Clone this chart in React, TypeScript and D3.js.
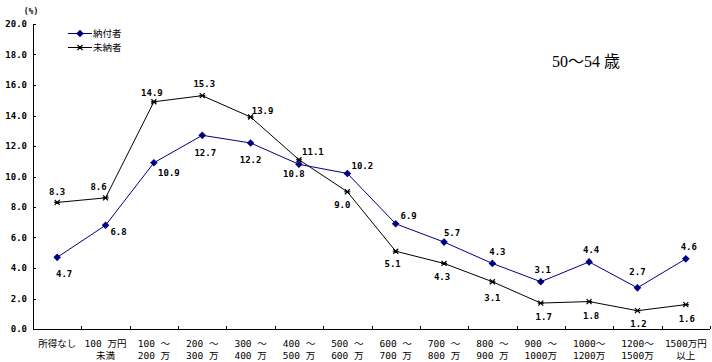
import React, { useEffect, useRef } from 'react';
import * as d3 from 'd3';

// income brackets (two text lines each)
const categories = [
  ['所得なし', ''],
  ['100 万円', '未満'],
  ['100 ～', '200 万'],
  ['200 ～', '300 万'],
  ['300 ～', '400 万'],
  ['400 ～', '500 万'],
  ['500 ～', '600 万'],
  ['600 ～', '700 万'],
  ['700 ～', '800 万'],
  ['800 ～', '900 万'],
  ['900 ～', '1000万'],
  ['1000～', '1200万'],
  ['1200～', '1500万'],
  ['1500万円', '以上'],
];

const paid = [4.7, 6.8, 10.9, 12.7, 12.2, 10.8, 10.2, 6.9, 5.7, 4.3, 3.1, 4.4, 2.7, 4.6];
const unpaid = [8.3, 8.6, 14.9, 15.3, 13.9, 11.1, 9.0, 5.1, 4.3, 3.1, 1.7, 1.8, 1.2, 1.6];

const yTicks = [0, 2, 4, 6, 8, 10, 12, 14, 16, 18, 20];

// label nudges [dx, dy] relative to each point
const paidLabelNudge = [[7, 17], [13, 7], [15, 10], [3, 18], [0, 17], [-5, 10], [15, -7], [13, -8], [8, -9], [5, -11], [2, -12], [2, -12], [0, -16], [3, -12]];
const unpaidLabelNudge = [[0, -10], [-7, -11], [-2, -9], [2, -12], [12, -6], [14, -8], [-5, 13], [-3, 13], [-2, 14], [0, 16], [3, 14], [2, 14], [1, 13], [1, 14]];

const NAVY = '#000080';
const MONO = '"DejaVu Sans Mono", monospace';
const CJK = '"Noto Sans CJK JP", sans-serif';

const App = () => {
  const svgRef = useRef<SVGSVGElement>(null);
  const width = 712;
  const height = 362;
  const margin = { top: 24, right: 2, bottom: 33, left: 33 };

  useEffect(() => {
    const svg = d3.select(svgRef.current);
    svg.selectAll('*').remove();

    const x = d3.scaleBand<number>()
      .domain(d3.range(categories.length))
      .range([margin.left, width - margin.right]);

    const y = d3.scaleLinear()
      .domain([0, 20])
      .range([height - margin.bottom, margin.top]);

    const cx = (i: number) => (x(i) as number) + x.bandwidth() / 2;

    // y axis
    const yAxis = svg.append('g').attr('transform', `translate(${margin.left},0)`);
    yAxis.append('line')
      .attr('x1', 0.5).attr('x2', 0.5)
      .attr('y1', y(20)).attr('y2', y(0))
      .attr('stroke', '#000');
    yAxis.selectAll('.yt')
      .data(yTicks)
      .enter().append('line')
      .attr('x1', 0).attr('x2', 3)
      .attr('y1', d => Math.round(y(d)) + 0.5).attr('y2', d => Math.round(y(d)) + 0.5)
      .attr('stroke', '#000');
    yAxis.selectAll('.yl')
      .data(yTicks)
      .enter().append('text')
      .attr('x', -6)
      .attr('y', d => y(d) + 3)
      .attr('text-anchor', 'end')
      .style('font-family', MONO)
      .style('font-size', '9px')
      .style('font-weight', 'bold')
      .text(d => d.toFixed(1));

    svg.append('text')
      .attr('x', 31).attr('y', 14)
      .attr('text-anchor', 'middle')
      .style('font-family', MONO)
      .style('font-size', '8px')
      .style('font-weight', 'bold')
      .text('(%)');

    // x axis
    const xAxis = svg.append('g');
    xAxis.append('line')
      .attr('x1', margin.left).attr('x2', width - margin.right)
      .attr('y1', y(0) + 0.5).attr('y2', y(0) + 0.5)
      .attr('stroke', '#000');
    xAxis.selectAll('.xt')
      .data(d3.range(1, categories.length + 1))
      .enter().append('line')
      .attr('x1', d => Math.round((x(0) as number) + d * x.bandwidth()) + 0.5)
      .attr('x2', d => Math.round((x(0) as number) + d * x.bandwidth()) + 0.5)
      .attr('y1', y(0) - 3).attr('y2', y(0))
      .attr('stroke', '#000');
    categories.forEach((c, i) => {
      c.forEach((line, k) => {
        xAxis.append('text')
          .attr('x', cx(i))
          .attr('y', y(0) + 18 + k * 12)
          .attr('text-anchor', 'middle')
          .style('font-family', `${MONO.split(',')[0]}, ${CJK}`)
          .style('font-size', '9.5px')
          .text(line);
      });
    });

    // lines
    const line = d3.line<number>().x((_, i) => cx(i)).y(d => y(d));

    svg.append('path')
      .datum(unpaid)
      .attr('d', line)
      .attr('fill', 'none')
      .attr('stroke', '#000')
      .attr('stroke-width', 1);

    svg.append('path')
      .datum(paid)
      .attr('d', line)
      .attr('fill', 'none')
      .attr('stroke', NAVY)
      .attr('stroke-width', 1);

    const starPath = 'M-2.5,-2.5L2.5,2.5M-2.5,2.5L2.5,-2.5M-3,0L3,0';
    const diamond = 'M0,-3.8L3.8,0L0,3.8L-3.8,0Z';

    svg.selectAll('.mu')
      .data(unpaid)
      .enter().append('path')
      .attr('transform', (d, i) => `translate(${cx(i)},${y(d)})`)
      .attr('d', starPath)
      .attr('stroke', '#000')
      .attr('stroke-width', 1.2)
      .attr('fill', 'none');

    svg.selectAll('.mp')
      .data(paid)
      .enter().append('path')
      .attr('transform', (d, i) => `translate(${cx(i)},${y(d)})`)
      .attr('d', diamond)
      .attr('fill', NAVY);

    // value labels
    const addLabels = (vals: number[], nudge: number[][]) => {
      svg.selectAll(null)
        .data(vals)
        .enter().append('text')
        .attr('x', (d, i) => cx(i) + nudge[i][0])
        .attr('y', (d, i) => y(d) + nudge[i][1] + 3)
        .attr('text-anchor', 'middle')
        .style('font-family', MONO)
        .style('font-size', '9px')
        .style('font-weight', 'bold')
        .text(d => d.toFixed(1));
    };
    addLabels(paid, paidLabelNudge);
    addLabels(unpaid, unpaidLabelNudge);

    // legend
    const legend = svg.append('g').attr('transform', 'translate(68,33)');
    const items = [
      { label: '納付者', color: NAVY, mark: diamond, fill: NAVY },
      { label: '未納者', color: '#000', mark: starPath, fill: 'none' },
    ];
    items.forEach((it, k) => {
      const g = legend.append('g').attr('transform', `translate(0,${k * 14})`);
      g.append('line')
        .attr('x1', 0).attr('x2', 24)
        .attr('y1', 0.5).attr('y2', 0.5)
        .attr('stroke', it.color);
      g.append('path')
        .attr('transform', 'translate(12,0.5)')
        .attr('d', it.mark)
        .attr('fill', it.fill)
        .attr('stroke', it.fill === 'none' ? '#000' : 'none')
        .attr('stroke-width', 1.2);
      g.append('text')
        .attr('x', 25).attr('y', 4)
        .style('font-family', CJK)
        .style('font-size', '9.5px')
        .text(it.label);
    });

    // title
    svg.append('text')
      .attr('x', 552).attr('y', 67)
      .style('font-family', `"Liberation Serif", ${CJK}`)
      .style('font-size', '16px')
      .text('50～54 歳');
  }, []);

  return (
    <div style={{ position: 'absolute', left: 0, top: 0 }}>
      <svg ref={svgRef} width={width} height={height} style={{ display: 'block', background: '#fff' }} />
    </div>
  );
};

export default App;
